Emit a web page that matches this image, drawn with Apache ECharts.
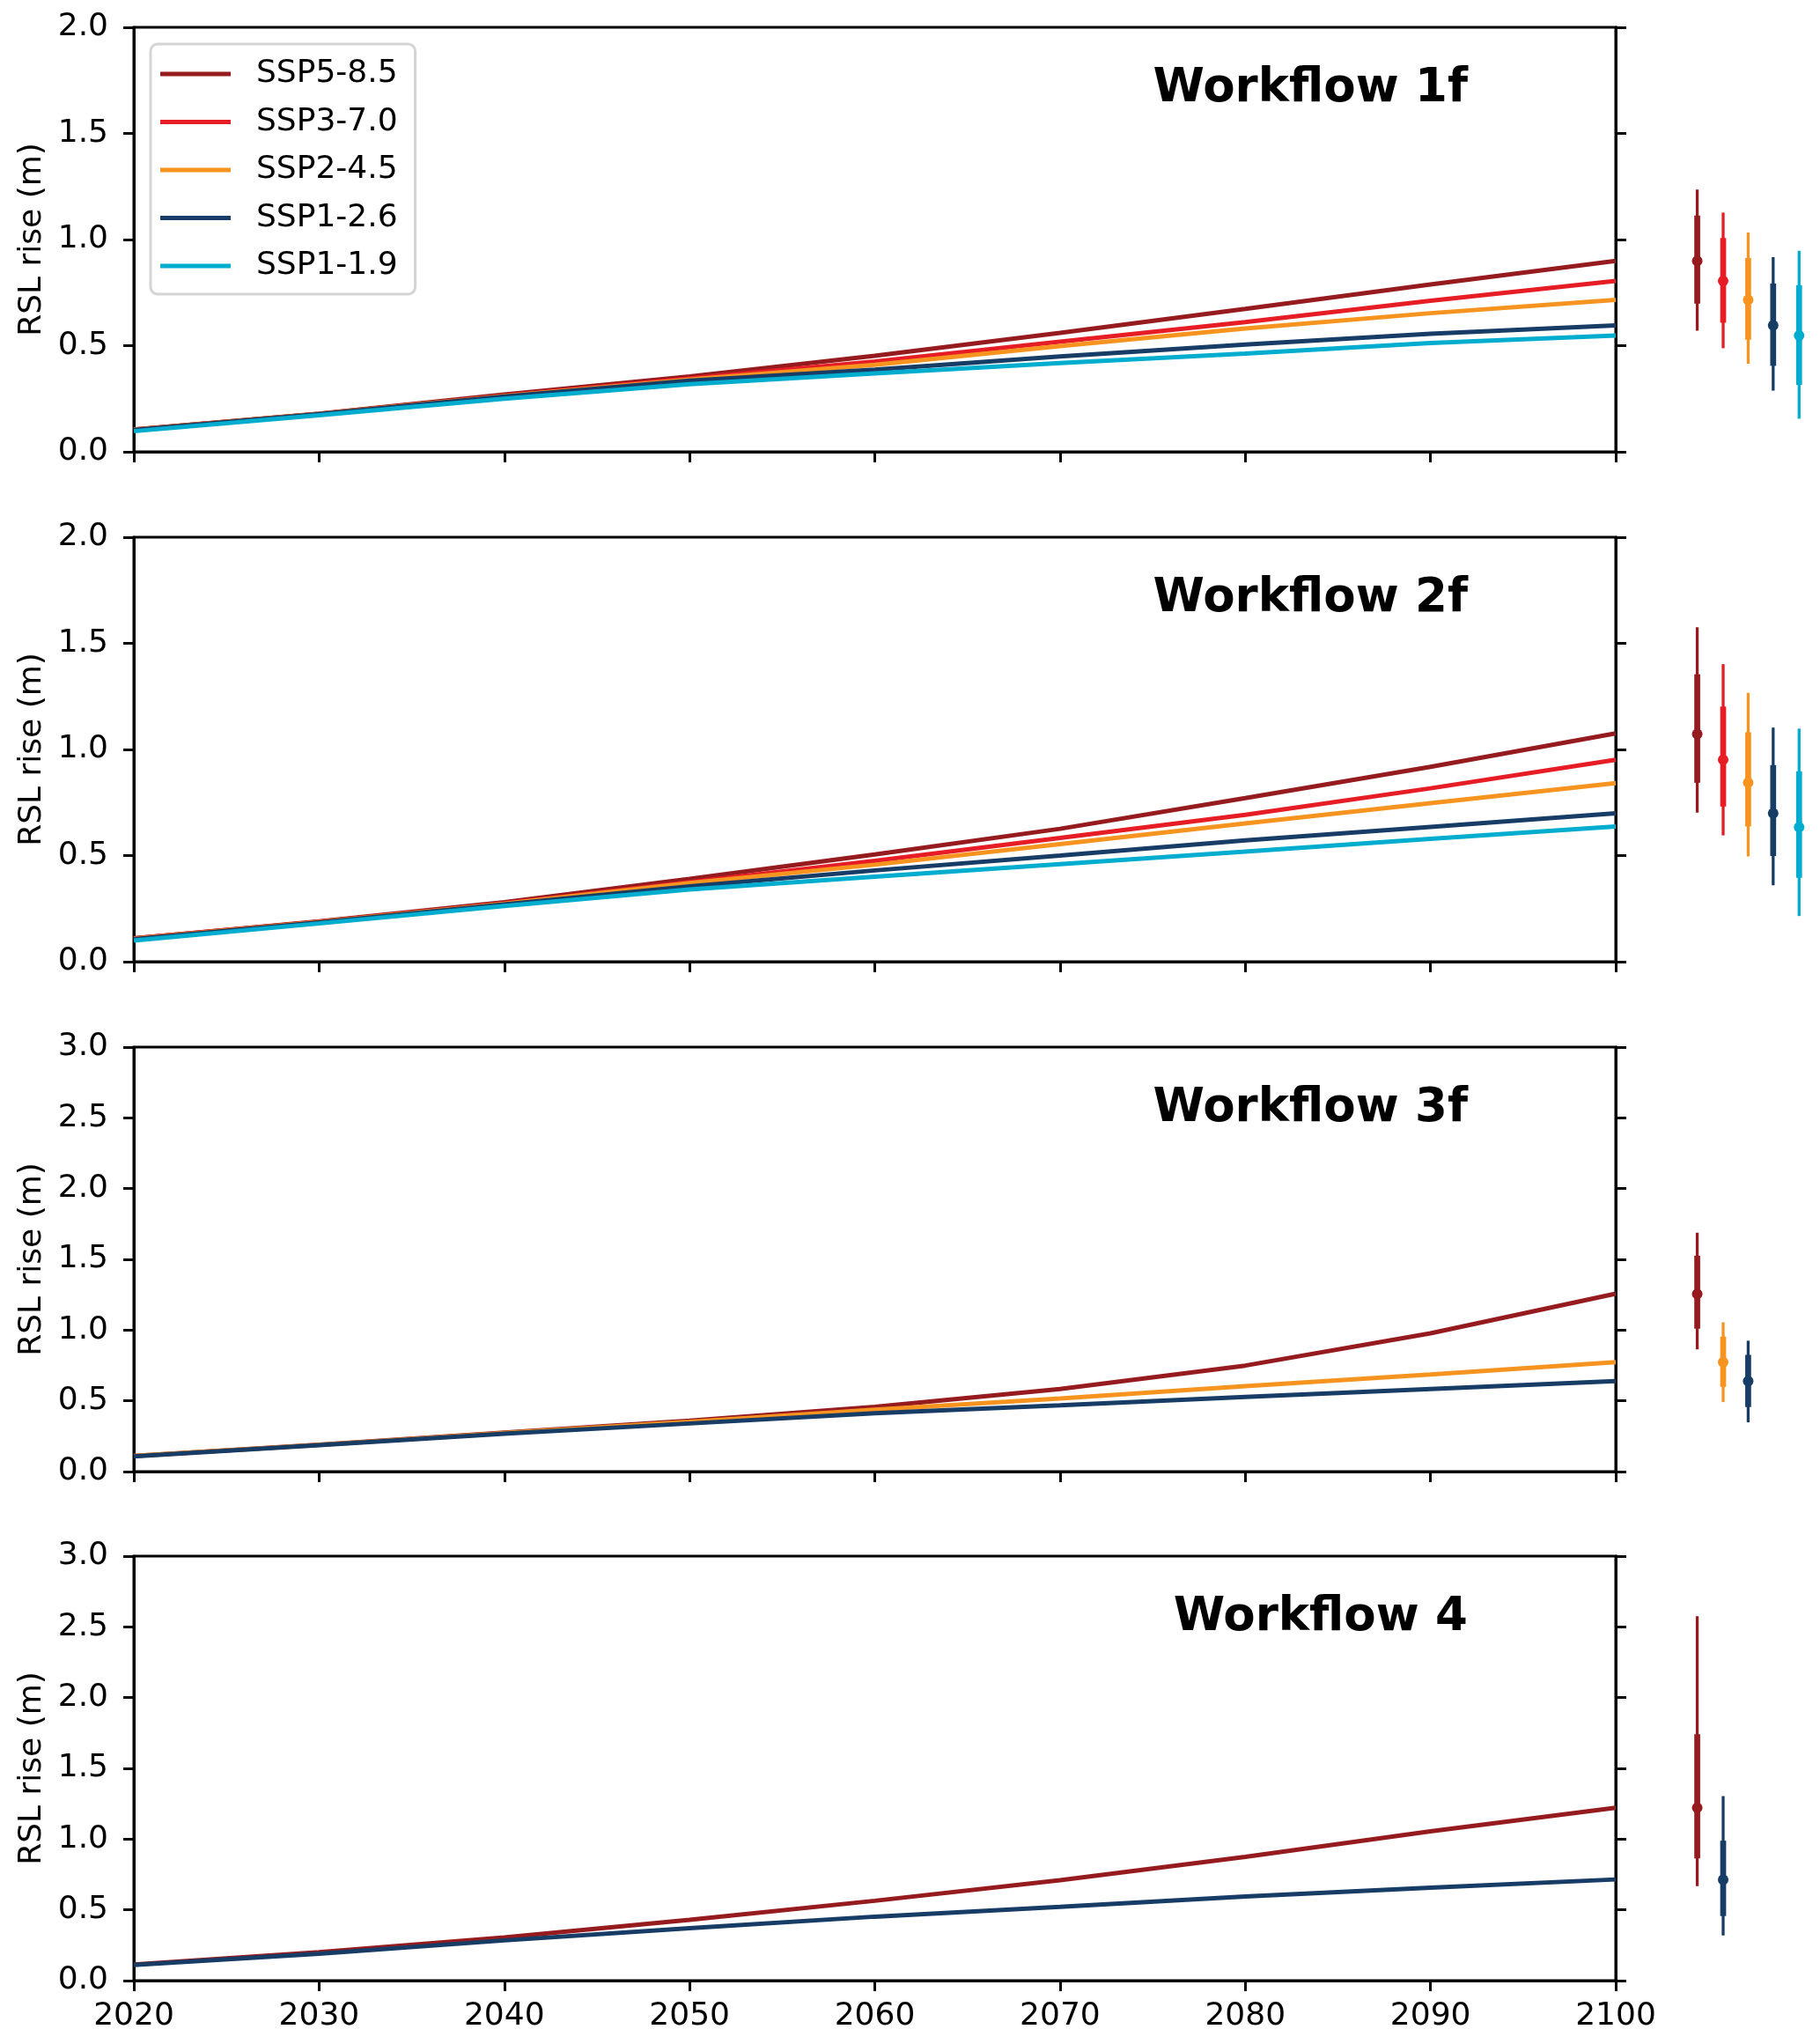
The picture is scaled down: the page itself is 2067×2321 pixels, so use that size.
<!DOCTYPE html>
<html>
<head>
<meta charset="utf-8">
<script src="https://cdn.jsdelivr.net/npm/echarts@6/dist/echarts.min.js"></script>
<style>
html,body{margin:0;padding:0;background:#fff;}
#chart{width:2067px;height:2321px;}
</style>
</head>
<body>
<div id="chart"></div>
<script>
// ---------- data ----------
var years = [2020, 2030, 2040, 2050, 2060, 2070, 2080, 2090, 2100];
var scenarios = ['SSP5-8.5', 'SSP3-7.0', 'SSP2-4.5', 'SSP1-2.6', 'SSP1-1.9'];
var scenarioColors = ['#951B1E', '#E71D25', '#F79420', '#173C66', '#00ADCF'];
var panelTitles = ['Workflow 1f', 'Workflow 2f', 'Workflow 3f', 'Workflow 4'];
var panelYMax = [2, 2, 3, 3];

// Workflow 1f
var wf1_ssp585 = [0.105, 0.180, 0.270, 0.355, 0.452, 0.560, 0.673, 0.788, 0.899];
var wf1_ssp370 = [0.105, 0.178, 0.265, 0.345, 0.425, 0.519, 0.611, 0.712, 0.805];
var wf1_ssp245 = [0.104, 0.178, 0.263, 0.340, 0.410, 0.498, 0.581, 0.653, 0.716];
var wf1_ssp126 = [0.103, 0.177, 0.260, 0.335, 0.387, 0.449, 0.505, 0.556, 0.595];
var wf1_ssp119 = [0.097, 0.172, 0.250, 0.318, 0.369, 0.418, 0.463, 0.512, 0.548];
// Workflow 2f
var wf2_ssp585 = [0.110, 0.190, 0.280, 0.390, 0.505, 0.626, 0.771, 0.918, 1.076];
var wf2_ssp370 = [0.110, 0.188, 0.275, 0.375, 0.475, 0.583, 0.692, 0.817, 0.951];
var wf2_ssp245 = [0.108, 0.187, 0.273, 0.370, 0.457, 0.554, 0.651, 0.747, 0.841];
var wf2_ssp126 = [0.106, 0.185, 0.270, 0.355, 0.430, 0.500, 0.572, 0.635, 0.699];
var wf2_ssp119 = [0.100, 0.180, 0.262, 0.340, 0.400, 0.460, 0.519, 0.579, 0.637];
// Workflow 3f
var wf3_ssp585 = [0.110, 0.190, 0.275, 0.360, 0.458, 0.583, 0.749, 0.977, 1.257];
var wf3_ssp245 = [0.110, 0.188, 0.272, 0.352, 0.437, 0.516, 0.604, 0.686, 0.774];
var wf3_ssp126 = [0.108, 0.186, 0.268, 0.340, 0.413, 0.469, 0.527, 0.583, 0.639];
// Workflow 4
var wf4_ssp585 = [0.114, 0.201, 0.305, 0.429, 0.564, 0.709, 0.875, 1.055, 1.221];
var wf4_ssp126 = [0.110, 0.190, 0.284, 0.371, 0.452, 0.522, 0.595, 0.657, 0.715];

// 2100 ranges: [thin low, thick low, median, thick high, thin high]
var wf1_range585 = [0.571, 0.698, 0.899, 1.113, 1.235];
var wf1_range370 = [0.488, 0.608, 0.805, 1.007, 1.127];
var wf1_range245 = [0.415, 0.528, 0.716, 0.913, 1.033];
var wf1_range126 = [0.288, 0.405, 0.595, 0.793, 0.917];
var wf1_range119 = [0.156, 0.315, 0.548, 0.785, 0.947];
var wf2_range585 = [0.702, 0.843, 1.073, 1.354, 1.576];
var wf2_range370 = [0.595, 0.731, 0.951, 1.202, 1.402];
var wf2_range245 = [0.496, 0.637, 0.843, 1.081, 1.267];
var wf2_range126 = [0.360, 0.498, 0.699, 0.926, 1.103];
var wf2_range119 = [0.215, 0.395, 0.634, 0.897, 1.098];
var wf3_range585 = [0.863, 1.010, 1.255, 1.526, 1.688];
var wf3_range245 = [0.491, 0.599, 0.774, 0.954, 1.055];
var wf3_range126 = [0.348, 0.456, 0.639, 0.825, 0.925];
var wf4_range585 = [0.667, 0.864, 1.221, 1.741, 2.575];
var wf4_range126 = [0.319, 0.456, 0.713, 0.989, 1.304];

// x positions of the range bars (beyond 2100)
var rangeSlots = [2104.4, 2105.8, 2107.15, 2108.5, 2109.9];

var panels = [
  {lines: [wf1_ssp585, wf1_ssp370, wf1_ssp245, wf1_ssp126, wf1_ssp119], idx: [0,1,2,3,4],
   ranges: [wf1_range585, wf1_range370, wf1_range245, wf1_range126, wf1_range119]},
  {lines: [wf2_ssp585, wf2_ssp370, wf2_ssp245, wf2_ssp126, wf2_ssp119], idx: [0,1,2,3,4],
   ranges: [wf2_range585, wf2_range370, wf2_range245, wf2_range126, wf2_range119]},
  {lines: [wf3_ssp585, wf3_ssp245, wf3_ssp126], idx: [0,2,3],
   ranges: [wf3_range585, wf3_range245, wf3_range126]},
  {lines: [wf4_ssp585, wf4_ssp126], idx: [0,3],
   ranges: [wf4_range585, wf4_range126]}
];

// ---------- layout ----------
var FONT = 'DejaVu Sans';
var panelTops = [31, 610, 1189, 1767];
var panelH = 482;
var plotLeft = 152, plotRight = 1835, W = 2067;
var pxPerYear = (plotRight - plotLeft) / 80;
var sideMax = 2100 + (W - plotRight) / pxPerYear;

var grids = [], xAxes = [], yAxes = [], series = [], titles = [];
var tick = {show: true, inside: false, length: 12, lineStyle: {color: '#000', width: 3}};
var axLine = {show: true, lineStyle: {color: '#000', width: 3}};

for (var p = 0; p < 4; p++) {
  grids.push({left: plotLeft, width: plotRight - plotLeft, top: panelTops[p], height: panelH,
              show: true, borderColor: '#000', borderWidth: 3, backgroundColor: 'transparent'});
}
for (var p = 0; p < 4; p++) {
  grids.push({left: plotRight, width: W - plotRight, top: panelTops[p], height: panelH});
}
for (var p = 0; p < 4; p++) {
  xAxes.push({type: 'value', gridIndex: p, min: 2020, max: 2100, interval: 10,
    axisLine: axLine, axisTick: tick, splitLine: {show: false},
    axisLabel: {show: p === 3, margin: 23, fontSize: 36, fontFamily: FONT, color: '#000',
                formatter: function (v) { return String(v); }}});
}
for (var p = 0; p < 4; p++) {
  xAxes.push({type: 'value', gridIndex: 4 + p, min: 2100, max: sideMax, show: false});
}
for (var p = 0; p < 4; p++) {
  yAxes.push({type: 'value', gridIndex: p, min: 0, max: panelYMax[p], interval: 0.5,
    position: 'left', axisLine: axLine, axisTick: tick, splitLine: {show: false},
    axisLabel: {margin: 29, fontSize: 36, fontFamily: FONT, color: '#000',
                formatter: function (v) { return v.toFixed(1); }},
    name: 'RSL rise (m)', nameLocation: 'middle', nameGap: 97,
    nameTextStyle: {fontSize: 36, fontFamily: FONT, color: '#000'}});
}
for (var p = 0; p < 4; p++) {
  yAxes.push({type: 'value', gridIndex: p, min: 0, max: panelYMax[p], interval: 0.5,
    position: 'right', axisLine: axLine, axisTick: tick, splitLine: {show: false},
    axisLabel: {show: false}});
}
for (var p = 0; p < 4; p++) {
  yAxes.push({type: 'value', gridIndex: 4 + p, min: 0, max: panelYMax[p], show: false});
}

function rangeRender(params, api) {
  var x = api.value(0);
  var a = api.coord([x, api.value(1)]);
  var b = api.coord([x, api.value(2)]);
  var m = api.coord([x, api.value(3)]);
  var c = api.coord([x, api.value(4)]);
  var d = api.coord([x, api.value(5)]);
  var color = api.visual('color');
  return {type: 'group', children: [
    {type: 'line', shape: {x1: a[0], y1: a[1], x2: d[0], y2: d[1]}, style: {stroke: color, lineWidth: 3.3}},
    {type: 'line', shape: {x1: b[0], y1: b[1], x2: c[0], y2: c[1]}, style: {stroke: color, lineWidth: 6.7}},
    {type: 'circle', shape: {cx: m[0], cy: m[1], r: 6}, style: {fill: color}}
  ]};
}

for (var p = 0; p < 4; p++) {
  var pn = panels[p];
  for (var k = 0; k < pn.lines.length; k++) {
    var si = pn.idx[k];
    var pts = years.map(function (y, i) { return [y, pn.lines[k][i]]; });
    series.push({type: 'line', name: scenarios[si], xAxisIndex: p, yAxisIndex: p,
      data: pts, showSymbol: false, symbol: 'none', smooth: false, animation: false,
      lineStyle: {color: scenarioColors[si], width: 5}, itemStyle: {color: scenarioColors[si]}, z: 3 + k});
  }
  for (var k = 0; k < pn.ranges.length; k++) {
    var si = pn.idx[k];
    var r = pn.ranges[k];
    series.push({type: 'custom', name: scenarios[si], xAxisIndex: 4 + p, yAxisIndex: 8 + p,
      renderItem: rangeRender, animation: false,
      itemStyle: {color: scenarioColors[si]},
      data: [[rangeSlots[k], r[0], r[1], r[2], r[3], r[4]]]});
  }
  titles.push({text: panelTitles[p], right: W - 1667, top: panelTops[p] + 44, padding: 0,
    textStyle: {fontSize: 53, fontWeight: 'bold', fontFamily: FONT, color: '#000'}});
}

var chart = echarts.init(document.getElementById('chart'), null, {renderer: 'canvas'});
chart.setOption({
  animation: false,
  backgroundColor: '#fff',
  title: titles,
  legend: {
    data: scenarios, orient: 'vertical', left: 171, top: 50,
    icon: 'rect', itemWidth: 80, itemHeight: 5, itemGap: 18.5,
    padding: [16, 20, 14, 11],
    backgroundColor: 'rgba(255,255,255,0.8)', borderColor: '#d4d4d4', borderWidth: 3, borderRadius: 8,
    textStyle: {fontSize: 36, fontFamily: FONT, color: '#000', padding: [0, 0, 0, 24]},
    selectedMode: false
  },
  grid: grids,
  xAxis: xAxes,
  yAxis: yAxes,
  series: series
});
</script>
</body>
</html>
